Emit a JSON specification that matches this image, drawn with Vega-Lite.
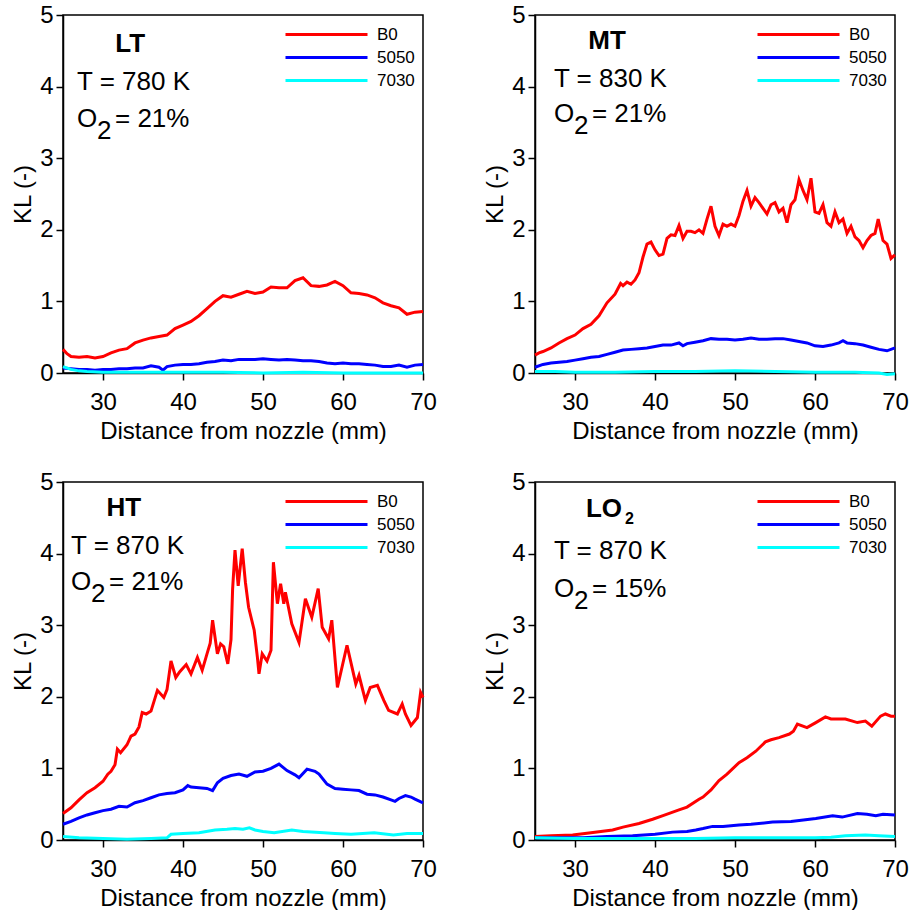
{
  "$schema": "https://vega.github.io/schema/vega-lite/v6.json",
  "padding": {"left": 10, "top": 2, "right": 5, "bottom": 5},
  "background": "white",
  "datasets": {
    "kl": [
      {"p":"LT","f":"B0","x":25,"y":0.33},{"p":"LT","f":"B0","x":25.5,"y":0.27},{"p":"LT","f":"B0","x":26,"y":0.23},{"p":"LT","f":"B0","x":27,"y":0.22},{"p":"LT","f":"B0","x":28,"y":0.23},{"p":"LT","f":"B0","x":29,"y":0.21},{"p":"LT","f":"B0","x":30,"y":0.23},{"p":"LT","f":"B0","x":31,"y":0.28},{"p":"LT","f":"B0","x":32,"y":0.32},{"p":"LT","f":"B0","x":33,"y":0.34},{"p":"LT","f":"B0","x":34,"y":0.42},{"p":"LT","f":"B0","x":35,"y":0.46},{"p":"LT","f":"B0","x":36,"y":0.49},{"p":"LT","f":"B0","x":37,"y":0.51},{"p":"LT","f":"B0","x":38,"y":0.53},{"p":"LT","f":"B0","x":39,"y":0.62},{"p":"LT","f":"B0","x":40,"y":0.67},{"p":"LT","f":"B0","x":41,"y":0.72},{"p":"LT","f":"B0","x":42,"y":0.8},{"p":"LT","f":"B0","x":43,"y":0.9},{"p":"LT","f":"B0","x":44,"y":1.0},{"p":"LT","f":"B0","x":45,"y":1.08},{"p":"LT","f":"B0","x":46,"y":1.06},{"p":"LT","f":"B0","x":47,"y":1.1},{"p":"LT","f":"B0","x":48,"y":1.14},{"p":"LT","f":"B0","x":49,"y":1.11},{"p":"LT","f":"B0","x":50,"y":1.13},{"p":"LT","f":"B0","x":51,"y":1.2},{"p":"LT","f":"B0","x":52,"y":1.19},{"p":"LT","f":"B0","x":53,"y":1.19},{"p":"LT","f":"B0","x":54,"y":1.29},{"p":"LT","f":"B0","x":55,"y":1.33},{"p":"LT","f":"B0","x":56,"y":1.22},{"p":"LT","f":"B0","x":57,"y":1.21},{"p":"LT","f":"B0","x":58,"y":1.23},{"p":"LT","f":"B0","x":59,"y":1.28},{"p":"LT","f":"B0","x":60,"y":1.22},{"p":"LT","f":"B0","x":61,"y":1.12},{"p":"LT","f":"B0","x":62,"y":1.11},{"p":"LT","f":"B0","x":63,"y":1.09},{"p":"LT","f":"B0","x":64,"y":1.05},{"p":"LT","f":"B0","x":65,"y":0.98},{"p":"LT","f":"B0","x":66,"y":0.94},{"p":"LT","f":"B0","x":67,"y":0.91},{"p":"LT","f":"B0","x":68,"y":0.82},{"p":"LT","f":"B0","x":69,"y":0.85},{"p":"LT","f":"B0","x":70,"y":0.86},
      {"p":"LT","f":"5050","x":25,"y":0.07},{"p":"LT","f":"5050","x":26,"y":0.06},{"p":"LT","f":"5050","x":27,"y":0.05},{"p":"LT","f":"5050","x":28,"y":0.05},{"p":"LT","f":"5050","x":29,"y":0.04},{"p":"LT","f":"5050","x":30,"y":0.05},{"p":"LT","f":"5050","x":31,"y":0.05},{"p":"LT","f":"5050","x":32,"y":0.06},{"p":"LT","f":"5050","x":33,"y":0.06},{"p":"LT","f":"5050","x":34,"y":0.07},{"p":"LT","f":"5050","x":35,"y":0.07},{"p":"LT","f":"5050","x":36,"y":0.1},{"p":"LT","f":"5050","x":37,"y":0.08},{"p":"LT","f":"5050","x":37.5,"y":0.04},{"p":"LT","f":"5050","x":38,"y":0.09},{"p":"LT","f":"5050","x":39,"y":0.11},{"p":"LT","f":"5050","x":40,"y":0.12},{"p":"LT","f":"5050","x":41,"y":0.12},{"p":"LT","f":"5050","x":42,"y":0.13},{"p":"LT","f":"5050","x":43,"y":0.15},{"p":"LT","f":"5050","x":44,"y":0.16},{"p":"LT","f":"5050","x":45,"y":0.18},{"p":"LT","f":"5050","x":46,"y":0.17},{"p":"LT","f":"5050","x":47,"y":0.19},{"p":"LT","f":"5050","x":48,"y":0.19},{"p":"LT","f":"5050","x":49,"y":0.19},{"p":"LT","f":"5050","x":50,"y":0.2},{"p":"LT","f":"5050","x":51,"y":0.19},{"p":"LT","f":"5050","x":52,"y":0.18},{"p":"LT","f":"5050","x":53,"y":0.19},{"p":"LT","f":"5050","x":54,"y":0.18},{"p":"LT","f":"5050","x":55,"y":0.17},{"p":"LT","f":"5050","x":56,"y":0.17},{"p":"LT","f":"5050","x":57,"y":0.16},{"p":"LT","f":"5050","x":58,"y":0.14},{"p":"LT","f":"5050","x":59,"y":0.13},{"p":"LT","f":"5050","x":60,"y":0.14},{"p":"LT","f":"5050","x":61,"y":0.13},{"p":"LT","f":"5050","x":62,"y":0.13},{"p":"LT","f":"5050","x":63,"y":0.12},{"p":"LT","f":"5050","x":64,"y":0.11},{"p":"LT","f":"5050","x":65,"y":0.09},{"p":"LT","f":"5050","x":66,"y":0.09},{"p":"LT","f":"5050","x":67,"y":0.11},{"p":"LT","f":"5050","x":68,"y":0.08},{"p":"LT","f":"5050","x":69,"y":0.11},{"p":"LT","f":"5050","x":70,"y":0.12},
      {"p":"LT","f":"7030","x":25,"y":0.09},{"p":"LT","f":"7030","x":26,"y":0.05},{"p":"LT","f":"7030","x":27,"y":0.03},{"p":"LT","f":"7030","x":28,"y":0.02},{"p":"LT","f":"7030","x":30,"y":0.01},{"p":"LT","f":"7030","x":35,"y":0.01},{"p":"LT","f":"7030","x":40,"y":0.01},{"p":"LT","f":"7030","x":45,"y":0.01},{"p":"LT","f":"7030","x":50,"y":0.0},{"p":"LT","f":"7030","x":55,"y":0.01},{"p":"LT","f":"7030","x":60,"y":0.0},{"p":"LT","f":"7030","x":65,"y":0.0},{"p":"LT","f":"7030","x":70,"y":0.0},

      {"p":"MT","f":"B0","x":25,"y":0.25},{"p":"MT","f":"B0","x":25.5,"y":0.28},{"p":"MT","f":"B0","x":26,"y":0.3},{"p":"MT","f":"B0","x":27,"y":0.35},{"p":"MT","f":"B0","x":28,"y":0.42},{"p":"MT","f":"B0","x":29,"y":0.48},{"p":"MT","f":"B0","x":30,"y":0.53},{"p":"MT","f":"B0","x":31,"y":0.62},{"p":"MT","f":"B0","x":32,"y":0.68},{"p":"MT","f":"B0","x":33,"y":0.8},{"p":"MT","f":"B0","x":34,"y":0.98},{"p":"MT","f":"B0","x":35,"y":1.1},{"p":"MT","f":"B0","x":35.7,"y":1.25},{"p":"MT","f":"B0","x":36,"y":1.22},{"p":"MT","f":"B0","x":36.5,"y":1.27},{"p":"MT","f":"B0","x":37,"y":1.24},{"p":"MT","f":"B0","x":37.5,"y":1.3},{"p":"MT","f":"B0","x":38,"y":1.4},{"p":"MT","f":"B0","x":38.5,"y":1.62},{"p":"MT","f":"B0","x":39,"y":1.8},{"p":"MT","f":"B0","x":39.5,"y":1.83},{"p":"MT","f":"B0","x":40,"y":1.72},{"p":"MT","f":"B0","x":40.5,"y":1.64},{"p":"MT","f":"B0","x":41,"y":1.66},{"p":"MT","f":"B0","x":41.5,"y":1.88},{"p":"MT","f":"B0","x":42,"y":1.93},{"p":"MT","f":"B0","x":42.5,"y":1.92},{"p":"MT","f":"B0","x":43,"y":2.06},{"p":"MT","f":"B0","x":43.5,"y":1.88},{"p":"MT","f":"B0","x":44,"y":1.98},{"p":"MT","f":"B0","x":44.5,"y":1.98},{"p":"MT","f":"B0","x":45,"y":1.96},{"p":"MT","f":"B0","x":45.5,"y":2.0},{"p":"MT","f":"B0","x":46,"y":1.95},{"p":"MT","f":"B0","x":46.5,"y":2.15},{"p":"MT","f":"B0","x":47,"y":2.33},{"p":"MT","f":"B0","x":47.5,"y":2.05},{"p":"MT","f":"B0","x":48,"y":1.92},{"p":"MT","f":"B0","x":48.5,"y":2.08},{"p":"MT","f":"B0","x":49,"y":2.05},{"p":"MT","f":"B0","x":49.5,"y":2.08},{"p":"MT","f":"B0","x":50,"y":2.05},{"p":"MT","f":"B0","x":50.5,"y":2.2},{"p":"MT","f":"B0","x":51,"y":2.4},{"p":"MT","f":"B0","x":51.5,"y":2.55},{"p":"MT","f":"B0","x":52,"y":2.33},{"p":"MT","f":"B0","x":52.5,"y":2.45},{"p":"MT","f":"B0","x":53,"y":2.38},{"p":"MT","f":"B0","x":53.5,"y":2.3},{"p":"MT","f":"B0","x":54,"y":2.22},{"p":"MT","f":"B0","x":54.5,"y":2.35},{"p":"MT","f":"B0","x":55,"y":2.38},{"p":"MT","f":"B0","x":55.5,"y":2.25},{"p":"MT","f":"B0","x":56,"y":2.3},{"p":"MT","f":"B0","x":56.5,"y":2.1},{"p":"MT","f":"B0","x":57,"y":2.35},{"p":"MT","f":"B0","x":57.5,"y":2.42},{"p":"MT","f":"B0","x":58,"y":2.7},{"p":"MT","f":"B0","x":58.5,"y":2.55},{"p":"MT","f":"B0","x":59,"y":2.42},{"p":"MT","f":"B0","x":59.5,"y":2.72},{"p":"MT","f":"B0","x":60,"y":2.25},{"p":"MT","f":"B0","x":60.5,"y":2.23},{"p":"MT","f":"B0","x":61,"y":2.35},{"p":"MT","f":"B0","x":61.5,"y":2.1},{"p":"MT","f":"B0","x":62,"y":2.05},{"p":"MT","f":"B0","x":62.5,"y":2.25},{"p":"MT","f":"B0","x":63,"y":2.1},{"p":"MT","f":"B0","x":63.5,"y":2.15},{"p":"MT","f":"B0","x":64,"y":1.95},{"p":"MT","f":"B0","x":64.5,"y":2.05},{"p":"MT","f":"B0","x":65,"y":1.9},{"p":"MT","f":"B0","x":65.5,"y":1.85},{"p":"MT","f":"B0","x":66,"y":1.75},{"p":"MT","f":"B0","x":66.5,"y":1.85},{"p":"MT","f":"B0","x":67,"y":1.92},{"p":"MT","f":"B0","x":67.5,"y":1.95},{"p":"MT","f":"B0","x":67.9,"y":2.15},{"p":"MT","f":"B0","x":68.5,"y":1.85},{"p":"MT","f":"B0","x":69,"y":1.8},{"p":"MT","f":"B0","x":69.5,"y":1.6},{"p":"MT","f":"B0","x":70,"y":1.65},
      {"p":"MT","f":"5050","x":25,"y":0.08},{"p":"MT","f":"5050","x":26,"y":0.12},{"p":"MT","f":"5050","x":27,"y":0.14},{"p":"MT","f":"5050","x":28,"y":0.15},{"p":"MT","f":"5050","x":29,"y":0.16},{"p":"MT","f":"5050","x":30,"y":0.18},{"p":"MT","f":"5050","x":31,"y":0.2},{"p":"MT","f":"5050","x":32,"y":0.22},{"p":"MT","f":"5050","x":33,"y":0.23},{"p":"MT","f":"5050","x":34,"y":0.26},{"p":"MT","f":"5050","x":35,"y":0.29},{"p":"MT","f":"5050","x":36,"y":0.32},{"p":"MT","f":"5050","x":37,"y":0.33},{"p":"MT","f":"5050","x":38,"y":0.34},{"p":"MT","f":"5050","x":39,"y":0.35},{"p":"MT","f":"5050","x":40,"y":0.37},{"p":"MT","f":"5050","x":41,"y":0.39},{"p":"MT","f":"5050","x":42,"y":0.39},{"p":"MT","f":"5050","x":43,"y":0.42},{"p":"MT","f":"5050","x":43.5,"y":0.38},{"p":"MT","f":"5050","x":44,"y":0.41},{"p":"MT","f":"5050","x":45,"y":0.43},{"p":"MT","f":"5050","x":46,"y":0.45},{"p":"MT","f":"5050","x":47,"y":0.48},{"p":"MT","f":"5050","x":48,"y":0.47},{"p":"MT","f":"5050","x":49,"y":0.47},{"p":"MT","f":"5050","x":50,"y":0.46},{"p":"MT","f":"5050","x":51,"y":0.47},{"p":"MT","f":"5050","x":52,"y":0.49},{"p":"MT","f":"5050","x":53,"y":0.47},{"p":"MT","f":"5050","x":54,"y":0.47},{"p":"MT","f":"5050","x":55,"y":0.48},{"p":"MT","f":"5050","x":56,"y":0.48},{"p":"MT","f":"5050","x":57,"y":0.46},{"p":"MT","f":"5050","x":58,"y":0.44},{"p":"MT","f":"5050","x":59,"y":0.42},{"p":"MT","f":"5050","x":60,"y":0.38},{"p":"MT","f":"5050","x":61,"y":0.37},{"p":"MT","f":"5050","x":62,"y":0.39},{"p":"MT","f":"5050","x":63,"y":0.42},{"p":"MT","f":"5050","x":63.5,"y":0.45},{"p":"MT","f":"5050","x":64,"y":0.42},{"p":"MT","f":"5050","x":65,"y":0.41},{"p":"MT","f":"5050","x":66,"y":0.39},{"p":"MT","f":"5050","x":67,"y":0.36},{"p":"MT","f":"5050","x":68,"y":0.33},{"p":"MT","f":"5050","x":69,"y":0.31},{"p":"MT","f":"5050","x":70,"y":0.35},
      {"p":"MT","f":"7030","x":25,"y":0.02},{"p":"MT","f":"7030","x":27.5,"y":0.02},{"p":"MT","f":"7030","x":30,"y":0.01},{"p":"MT","f":"7030","x":35,"y":0.01},{"p":"MT","f":"7030","x":40,"y":0.02},{"p":"MT","f":"7030","x":45,"y":0.02},{"p":"MT","f":"7030","x":50,"y":0.03},{"p":"MT","f":"7030","x":55,"y":0.02},{"p":"MT","f":"7030","x":60,"y":0.01},{"p":"MT","f":"7030","x":65,"y":0.01},{"p":"MT","f":"7030","x":68,"y":0.0},{"p":"MT","f":"7030","x":69,"y":-0.02},{"p":"MT","f":"7030","x":70,"y":-0.01},

      {"p":"HT","f":"B0","x":25,"y":0.37},{"p":"HT","f":"B0","x":26,"y":0.45},{"p":"HT","f":"B0","x":27,"y":0.56},{"p":"HT","f":"B0","x":28,"y":0.66},{"p":"HT","f":"B0","x":29,"y":0.73},{"p":"HT","f":"B0","x":30,"y":0.82},{"p":"HT","f":"B0","x":30.6,"y":0.92},{"p":"HT","f":"B0","x":31,"y":0.96},{"p":"HT","f":"B0","x":31.5,"y":1.05},{"p":"HT","f":"B0","x":31.8,"y":1.27},{"p":"HT","f":"B0","x":32.2,"y":1.22},{"p":"HT","f":"B0","x":33,"y":1.33},{"p":"HT","f":"B0","x":33.5,"y":1.45},{"p":"HT","f":"B0","x":34,"y":1.48},{"p":"HT","f":"B0","x":34.5,"y":1.58},{"p":"HT","f":"B0","x":34.9,"y":1.78},{"p":"HT","f":"B0","x":35.4,"y":1.76},{"p":"HT","f":"B0","x":36,"y":1.8},{"p":"HT","f":"B0","x":36.8,"y":2.09},{"p":"HT","f":"B0","x":37.6,"y":1.99},{"p":"HT","f":"B0","x":38,"y":2.1},{"p":"HT","f":"B0","x":38.5,"y":2.5},{"p":"HT","f":"B0","x":39.1,"y":2.27},{"p":"HT","f":"B0","x":39.6,"y":2.35},{"p":"HT","f":"B0","x":40.4,"y":2.45},{"p":"HT","f":"B0","x":41,"y":2.32},{"p":"HT","f":"B0","x":41.8,"y":2.55},{"p":"HT","f":"B0","x":42.4,"y":2.37},{"p":"HT","f":"B0","x":43,"y":2.6},{"p":"HT","f":"B0","x":43.4,"y":2.75},{"p":"HT","f":"B0","x":43.7,"y":3.07},{"p":"HT","f":"B0","x":44.3,"y":2.6},{"p":"HT","f":"B0","x":44.7,"y":2.74},{"p":"HT","f":"B0","x":45.1,"y":2.7},{"p":"HT","f":"B0","x":45.6,"y":2.46},{"p":"HT","f":"B0","x":46,"y":2.8},{"p":"HT","f":"B0","x":46.2,"y":3.5},{"p":"HT","f":"B0","x":46.5,"y":4.05},{"p":"HT","f":"B0","x":46.9,"y":3.55},{"p":"HT","f":"B0","x":47.4,"y":4.07},{"p":"HT","f":"B0","x":47.8,"y":3.6},{"p":"HT","f":"B0","x":48.2,"y":3.25},{"p":"HT","f":"B0","x":48.9,"y":2.93},{"p":"HT","f":"B0","x":49.3,"y":2.55},{"p":"HT","f":"B0","x":49.5,"y":2.32},{"p":"HT","f":"B0","x":49.9,"y":2.6},{"p":"HT","f":"B0","x":50.5,"y":2.5},{"p":"HT","f":"B0","x":51,"y":2.65},{"p":"HT","f":"B0","x":51.3,"y":3.88},{"p":"HT","f":"B0","x":51.8,"y":3.3},{"p":"HT","f":"B0","x":52.2,"y":3.58},{"p":"HT","f":"B0","x":52.6,"y":3.3},{"p":"HT","f":"B0","x":52.8,"y":3.46},{"p":"HT","f":"B0","x":53.6,"y":3.02},{"p":"HT","f":"B0","x":54.5,"y":2.76},{"p":"HT","f":"B0","x":55.3,"y":3.37},{"p":"HT","f":"B0","x":56.1,"y":3.11},{"p":"HT","f":"B0","x":56.9,"y":3.51},{"p":"HT","f":"B0","x":57.4,"y":2.97},{"p":"HT","f":"B0","x":58.2,"y":2.81},{"p":"HT","f":"B0","x":58.6,"y":3.07},{"p":"HT","f":"B0","x":59.3,"y":2.13},{"p":"HT","f":"B0","x":60.5,"y":2.72},{"p":"HT","f":"B0","x":61.6,"y":2.18},{"p":"HT","f":"B0","x":62,"y":2.3},{"p":"HT","f":"B0","x":62.8,"y":1.95},{"p":"HT","f":"B0","x":63.4,"y":2.13},{"p":"HT","f":"B0","x":64.3,"y":2.16},{"p":"HT","f":"B0","x":65.1,"y":1.95},{"p":"HT","f":"B0","x":65.7,"y":1.81},{"p":"HT","f":"B0","x":66.8,"y":1.76},{"p":"HT","f":"B0","x":67.4,"y":1.9},{"p":"HT","f":"B0","x":67.8,"y":1.76},{"p":"HT","f":"B0","x":68.5,"y":1.6},{"p":"HT","f":"B0","x":69.3,"y":1.71},{"p":"HT","f":"B0","x":69.7,"y":2.06},{"p":"HT","f":"B0","x":70,"y":1.99},
      {"p":"HT","f":"5050","x":25,"y":0.22},{"p":"HT","f":"5050","x":26,"y":0.26},{"p":"HT","f":"5050","x":27,"y":0.31},{"p":"HT","f":"5050","x":28,"y":0.35},{"p":"HT","f":"5050","x":29,"y":0.38},{"p":"HT","f":"5050","x":30,"y":0.41},{"p":"HT","f":"5050","x":31,"y":0.43},{"p":"HT","f":"5050","x":32,"y":0.47},{"p":"HT","f":"5050","x":33,"y":0.46},{"p":"HT","f":"5050","x":34,"y":0.52},{"p":"HT","f":"5050","x":35,"y":0.55},{"p":"HT","f":"5050","x":36,"y":0.59},{"p":"HT","f":"5050","x":37,"y":0.63},{"p":"HT","f":"5050","x":38,"y":0.65},{"p":"HT","f":"5050","x":39,"y":0.66},{"p":"HT","f":"5050","x":40,"y":0.7},{"p":"HT","f":"5050","x":40.6,"y":0.76},{"p":"HT","f":"5050","x":41,"y":0.74},{"p":"HT","f":"5050","x":42,"y":0.73},{"p":"HT","f":"5050","x":43,"y":0.72},{"p":"HT","f":"5050","x":43.7,"y":0.69},{"p":"HT","f":"5050","x":44.3,"y":0.8},{"p":"HT","f":"5050","x":45,"y":0.86},{"p":"HT","f":"5050","x":46,"y":0.9},{"p":"HT","f":"5050","x":47,"y":0.92},{"p":"HT","f":"5050","x":48,"y":0.89},{"p":"HT","f":"5050","x":49,"y":0.95},{"p":"HT","f":"5050","x":50,"y":0.96},{"p":"HT","f":"5050","x":51,"y":1.0},{"p":"HT","f":"5050","x":52,"y":1.06},{"p":"HT","f":"5050","x":53,"y":0.97},{"p":"HT","f":"5050","x":54,"y":0.91},{"p":"HT","f":"5050","x":54.5,"y":0.87},{"p":"HT","f":"5050","x":55.5,"y":0.99},{"p":"HT","f":"5050","x":56.5,"y":0.96},{"p":"HT","f":"5050","x":57,"y":0.92},{"p":"HT","f":"5050","x":58,"y":0.78},{"p":"HT","f":"5050","x":59,"y":0.72},{"p":"HT","f":"5050","x":60,"y":0.71},{"p":"HT","f":"5050","x":61,"y":0.7},{"p":"HT","f":"5050","x":62,"y":0.69},{"p":"HT","f":"5050","x":63,"y":0.64},{"p":"HT","f":"5050","x":64,"y":0.63},{"p":"HT","f":"5050","x":65,"y":0.6},{"p":"HT","f":"5050","x":66,"y":0.56},{"p":"HT","f":"5050","x":66.5,"y":0.54},{"p":"HT","f":"5050","x":67,"y":0.58},{"p":"HT","f":"5050","x":67.8,"y":0.62},{"p":"HT","f":"5050","x":68.5,"y":0.6},{"p":"HT","f":"5050","x":69,"y":0.57},{"p":"HT","f":"5050","x":70,"y":0.52},
      {"p":"HT","f":"7030","x":25,"y":0.05},{"p":"HT","f":"7030","x":27,"y":0.03},{"p":"HT","f":"7030","x":30,"y":0.02},{"p":"HT","f":"7030","x":33,"y":0.01},{"p":"HT","f":"7030","x":36,"y":0.02},{"p":"HT","f":"7030","x":38,"y":0.03},{"p":"HT","f":"7030","x":38.5,"y":0.08},{"p":"HT","f":"7030","x":40,"y":0.09},{"p":"HT","f":"7030","x":42,"y":0.1},{"p":"HT","f":"7030","x":44,"y":0.14},{"p":"HT","f":"7030","x":45.5,"y":0.15},{"p":"HT","f":"7030","x":46.5,"y":0.16},{"p":"HT","f":"7030","x":47.5,"y":0.15},{"p":"HT","f":"7030","x":48.3,"y":0.17},{"p":"HT","f":"7030","x":49,"y":0.14},{"p":"HT","f":"7030","x":50,"y":0.12},{"p":"HT","f":"7030","x":51.4,"y":0.1},{"p":"HT","f":"7030","x":53.6,"y":0.14},{"p":"HT","f":"7030","x":55,"y":0.12},{"p":"HT","f":"7030","x":57.6,"y":0.1},{"p":"HT","f":"7030","x":59,"y":0.09},{"p":"HT","f":"7030","x":61,"y":0.08},{"p":"HT","f":"7030","x":63.9,"y":0.1},{"p":"HT","f":"7030","x":66.3,"y":0.07},{"p":"HT","f":"7030","x":68,"y":0.09},{"p":"HT","f":"7030","x":70,"y":0.09},

      {"p":"LO2","f":"B0","x":25,"y":0.05},{"p":"LO2","f":"B0","x":27,"y":0.06},{"p":"LO2","f":"B0","x":29.7,"y":0.07},{"p":"LO2","f":"B0","x":32,"y":0.1},{"p":"LO2","f":"B0","x":34.7,"y":0.14},{"p":"LO2","f":"B0","x":36,"y":0.18},{"p":"LO2","f":"B0","x":38,"y":0.23},{"p":"LO2","f":"B0","x":39.7,"y":0.29},{"p":"LO2","f":"B0","x":41,"y":0.34},{"p":"LO2","f":"B0","x":43,"y":0.42},{"p":"LO2","f":"B0","x":44,"y":0.46},{"p":"LO2","f":"B0","x":45.5,"y":0.57},{"p":"LO2","f":"B0","x":46,"y":0.6},{"p":"LO2","f":"B0","x":47,"y":0.7},{"p":"LO2","f":"B0","x":48,"y":0.83},{"p":"LO2","f":"B0","x":49,"y":0.92},{"p":"LO2","f":"B0","x":50.5,"y":1.08},{"p":"LO2","f":"B0","x":51.5,"y":1.15},{"p":"LO2","f":"B0","x":52.6,"y":1.24},{"p":"LO2","f":"B0","x":53.8,"y":1.37},{"p":"LO2","f":"B0","x":54.5,"y":1.4},{"p":"LO2","f":"B0","x":55.5,"y":1.43},{"p":"LO2","f":"B0","x":56.8,"y":1.48},{"p":"LO2","f":"B0","x":57.3,"y":1.52},{"p":"LO2","f":"B0","x":57.8,"y":1.62},{"p":"LO2","f":"B0","x":59,"y":1.57},{"p":"LO2","f":"B0","x":60.1,"y":1.64},{"p":"LO2","f":"B0","x":61.3,"y":1.72},{"p":"LO2","f":"B0","x":62,"y":1.69},{"p":"LO2","f":"B0","x":62.6,"y":1.69},{"p":"LO2","f":"B0","x":63.8,"y":1.69},{"p":"LO2","f":"B0","x":65.3,"y":1.64},{"p":"LO2","f":"B0","x":66.3,"y":1.66},{"p":"LO2","f":"B0","x":67.1,"y":1.59},{"p":"LO2","f":"B0","x":68.2,"y":1.73},{"p":"LO2","f":"B0","x":68.8,"y":1.76},{"p":"LO2","f":"B0","x":69.5,"y":1.73},{"p":"LO2","f":"B0","x":70,"y":1.73},
      {"p":"LO2","f":"5050","x":25,"y":0.03},{"p":"LO2","f":"5050","x":28,"y":0.03},{"p":"LO2","f":"5050","x":31,"y":0.03},{"p":"LO2","f":"5050","x":34,"y":0.05},{"p":"LO2","f":"5050","x":37.2,"y":0.06},{"p":"LO2","f":"5050","x":40,"y":0.08},{"p":"LO2","f":"5050","x":42.2,"y":0.11},{"p":"LO2","f":"5050","x":44,"y":0.12},{"p":"LO2","f":"5050","x":45.1,"y":0.14},{"p":"LO2","f":"5050","x":46,"y":0.16},{"p":"LO2","f":"5050","x":47.2,"y":0.19},{"p":"LO2","f":"5050","x":48.5,"y":0.19},{"p":"LO2","f":"5050","x":50.5,"y":0.21},{"p":"LO2","f":"5050","x":52,"y":0.22},{"p":"LO2","f":"5050","x":54.7,"y":0.25},{"p":"LO2","f":"5050","x":57,"y":0.26},{"p":"LO2","f":"5050","x":60.1,"y":0.3},{"p":"LO2","f":"5050","x":62.2,"y":0.34},{"p":"LO2","f":"5050","x":63.4,"y":0.32},{"p":"LO2","f":"5050","x":65.3,"y":0.37},{"p":"LO2","f":"5050","x":66.5,"y":0.36},{"p":"LO2","f":"5050","x":67.6,"y":0.34},{"p":"LO2","f":"5050","x":68.5,"y":0.36},{"p":"LO2","f":"5050","x":70,"y":0.35},
      {"p":"LO2","f":"7030","x":25,"y":0.03},{"p":"LO2","f":"7030","x":30,"y":0.02},{"p":"LO2","f":"7030","x":35,"y":0.02},{"p":"LO2","f":"7030","x":40,"y":0.02},{"p":"LO2","f":"7030","x":45,"y":0.02},{"p":"LO2","f":"7030","x":50,"y":0.03},{"p":"LO2","f":"7030","x":55,"y":0.03},{"p":"LO2","f":"7030","x":60,"y":0.03},{"p":"LO2","f":"7030","x":62,"y":0.04},{"p":"LO2","f":"7030","x":63.8,"y":0.06},{"p":"LO2","f":"7030","x":66.3,"y":0.07},{"p":"LO2","f":"7030","x":68,"y":0.06},{"p":"LO2","f":"7030","x":70,"y":0.05}
    ]
  },
  "columns": 2,
  "spacing": {"row": 109, "column": 112},
  "bounds": "flush",
  "resolve": {"scale": {"color": "independent"}, "legend": {"color": "independent"}},
  "concat": [
    {
      "width": 360, "height": 358,
      "layer": [
        {"data": {"name": "kl"}, "transform": [{"filter": "datum.p === 'LT'"}],
         "mark": {"type": "line", "strokeWidth": 3},
         "encoding": {
           "x": {"field": "x", "type": "quantitative", "scale": {"domain": [25, 70], "nice": false, "zero": false},
                 "axis": {"title": "Distance from nozzle (mm)", "values": [30,40,50,60,70], "format": "d", "labelPadding": 10, "titlePadding": 5}},
           "y": {"field": "y", "type": "quantitative", "scale": {"domain": [0, 5], "nice": false},
                 "axis": {"title": "KL (-)", "values": [0,0.5,1,1.5,2,2.5,3,3.5,4,4.5,5], "labelExpr": "datum.value % 1 === 0 ? format(datum.value, 'd') : ''", "tickDash": {"condition": {"test": "datum.value % 1 !== 0", "value": [4, 20]}, "value": []}}},
           "color": {"field": "f", "type": "nominal", "scale": {"domain": ["B0", "5050", "7030"], "range": ["#ff0000", "#0000ff", "#00ffff"]}, "legend": {"title": null}}
         }},
        {"data": {"values": [{}]}, "mark": {"type": "text", "text": "LT", "fontSize": 26, "fontWeight": "bold", "align": "center"}, "encoding": {"x": {"datum": 33.4}, "y": {"datum": 4.48}}},
        {"data": {"values": [{}]}, "mark": {"type": "text", "text": "T = 780 K"}, "encoding": {"x": {"datum": 26.75}, "y": {"datum": 3.95}}},
        {"data": {"values": [{}]}, "mark": {"type": "text", "text": "O"}, "encoding": {"x": {"datum": 26.75}, "y": {"datum": 3.44}}},
        {"data": {"values": [{}]}, "mark": {"type": "text", "text": "2", "dx": 20, "dy": 12}, "encoding": {"x": {"datum": 26.75}, "y": {"datum": 3.44}}},
        {"data": {"values": [{}]}, "mark": {"type": "text", "text": "= 21%", "dx": 38}, "encoding": {"x": {"datum": 26.75}, "y": {"datum": 3.44}}}
      ]
    },
    {
      "width": 360, "height": 358,
      "layer": [
        {"data": {"name": "kl"}, "transform": [{"filter": "datum.p === 'MT'"}],
         "mark": {"type": "line", "strokeWidth": 3},
         "encoding": {
           "x": {"field": "x", "type": "quantitative", "scale": {"domain": [25, 70], "nice": false, "zero": false},
                 "axis": {"title": "Distance from nozzle (mm)", "values": [30,40,50,60,70], "format": "d", "labelPadding": 10, "titlePadding": 5}},
           "y": {"field": "y", "type": "quantitative", "scale": {"domain": [0, 5], "nice": false},
                 "axis": {"title": "KL (-)", "values": [0,0.5,1,1.5,2,2.5,3,3.5,4,4.5,5], "labelExpr": "datum.value % 1 === 0 ? format(datum.value, 'd') : ''", "tickDash": {"condition": {"test": "datum.value % 1 !== 0", "value": [4, 20]}, "value": []}}},
           "color": {"field": "f", "type": "nominal", "scale": {"domain": ["B0", "5050", "7030"], "range": ["#ff0000", "#0000ff", "#00ffff"]}, "legend": {"title": null}}
         }},
        {"data": {"values": [{}]}, "mark": {"type": "text", "text": "MT", "fontSize": 26, "fontWeight": "bold", "align": "center"}, "encoding": {"x": {"datum": 34.0}, "y": {"datum": 4.53}}},
        {"data": {"values": [{}]}, "mark": {"type": "text", "text": "T = 830 K"}, "encoding": {"x": {"datum": 27.37}, "y": {"datum": 4.0}}},
        {"data": {"values": [{}]}, "mark": {"type": "text", "text": "O"}, "encoding": {"x": {"datum": 27.37}, "y": {"datum": 3.5}}},
        {"data": {"values": [{}]}, "mark": {"type": "text", "text": "2", "dx": 20, "dy": 12}, "encoding": {"x": {"datum": 27.37}, "y": {"datum": 3.5}}},
        {"data": {"values": [{}]}, "mark": {"type": "text", "text": "= 21%", "dx": 38}, "encoding": {"x": {"datum": 27.37}, "y": {"datum": 3.5}}}
      ]
    },
    {
      "width": 360, "height": 358,
      "layer": [
        {"data": {"name": "kl"}, "transform": [{"filter": "datum.p === 'HT'"}],
         "mark": {"type": "line", "strokeWidth": 3},
         "encoding": {
           "x": {"field": "x", "type": "quantitative", "scale": {"domain": [25, 70], "nice": false, "zero": false},
                 "axis": {"title": "Distance from nozzle (mm)", "values": [30,40,50,60,70], "format": "d", "labelPadding": 10, "titlePadding": 5}},
           "y": {"field": "y", "type": "quantitative", "scale": {"domain": [0, 5], "nice": false},
                 "axis": {"title": "KL (-)", "values": [0,0.5,1,1.5,2,2.5,3,3.5,4,4.5,5], "labelExpr": "datum.value % 1 === 0 ? format(datum.value, 'd') : ''", "tickDash": {"condition": {"test": "datum.value % 1 !== 0", "value": [4, 20]}, "value": []}}},
           "color": {"field": "f", "type": "nominal", "scale": {"domain": ["B0", "5050", "7030"], "range": ["#ff0000", "#0000ff", "#00ffff"]}, "legend": {"title": null}}
         }},
        {"data": {"values": [{}]}, "mark": {"type": "text", "text": "HT", "fontSize": 26, "fontWeight": "bold", "align": "center"}, "encoding": {"x": {"datum": 32.6}, "y": {"datum": 4.52}}},
        {"data": {"values": [{}]}, "mark": {"type": "text", "text": "T = 870 K"}, "encoding": {"x": {"datum": 26.0}, "y": {"datum": 4.0}}},
        {"data": {"values": [{}]}, "mark": {"type": "text", "text": "O"}, "encoding": {"x": {"datum": 26.0}, "y": {"datum": 3.49}}},
        {"data": {"values": [{}]}, "mark": {"type": "text", "text": "2", "dx": 20, "dy": 12}, "encoding": {"x": {"datum": 26.0}, "y": {"datum": 3.49}}},
        {"data": {"values": [{}]}, "mark": {"type": "text", "text": "= 21%", "dx": 38}, "encoding": {"x": {"datum": 26.0}, "y": {"datum": 3.49}}}
      ]
    },
    {
      "width": 360, "height": 358,
      "layer": [
        {"data": {"name": "kl"}, "transform": [{"filter": "datum.p === 'LO2'"}],
         "mark": {"type": "line", "strokeWidth": 3},
         "encoding": {
           "x": {"field": "x", "type": "quantitative", "scale": {"domain": [25, 70], "nice": false, "zero": false},
                 "axis": {"title": "Distance from nozzle (mm)", "values": [30,40,50,60,70], "format": "d", "labelPadding": 10, "titlePadding": 5}},
           "y": {"field": "y", "type": "quantitative", "scale": {"domain": [0, 5], "nice": false},
                 "axis": {"title": "KL (-)", "values": [0,0.5,1,1.5,2,2.5,3,3.5,4,4.5,5], "labelExpr": "datum.value % 1 === 0 ? format(datum.value, 'd') : ''", "tickDash": {"condition": {"test": "datum.value % 1 !== 0", "value": [4, 20]}, "value": []}}},
           "color": {"field": "f", "type": "nominal", "scale": {"domain": ["B0", "5050", "7030"], "range": ["#ff0000", "#0000ff", "#00ffff"]}, "legend": {"title": null}}
         }},
        {"data": {"values": [{}]}, "mark": {"type": "text", "text": "LO", "fontSize": 26, "fontWeight": "bold"}, "encoding": {"x": {"datum": 31.36}, "y": {"datum": 4.51}}},
        {"data": {"values": [{}]}, "mark": {"type": "text", "text": "2", "fontSize": 16, "fontWeight": "bold", "dx": 39, "dy": 7}, "encoding": {"x": {"datum": 31.36}, "y": {"datum": 4.51}}},
        {"data": {"values": [{}]}, "mark": {"type": "text", "text": "T = 870 K"}, "encoding": {"x": {"datum": 27.37}, "y": {"datum": 3.92}}},
        {"data": {"values": [{}]}, "mark": {"type": "text", "text": "O"}, "encoding": {"x": {"datum": 27.37}, "y": {"datum": 3.4}}},
        {"data": {"values": [{}]}, "mark": {"type": "text", "text": "2", "dx": 20, "dy": 12}, "encoding": {"x": {"datum": 27.37}, "y": {"datum": 3.4}}},
        {"data": {"values": [{}]}, "mark": {"type": "text", "text": "= 15%", "dx": 38}, "encoding": {"x": {"datum": 27.37}, "y": {"datum": 3.4}}}
      ]
    }
  ],
  "config": {
    "font": "Liberation Sans",
    "view": {"stroke": "#000000", "strokeWidth": 1.5},
    "text": {"font": "Liberation Sans", "fontSize": 26, "align": "left", "baseline": "alphabetic", "color": "#000000"},
    "axis": {"domainColor": "#000000", "domainWidth": 1.5, "tickColor": "#000000", "tickWidth": 1.5, "tickSize": 7, "labelPadding": 3, "titlePadding": 4, "labelColor": "#000000", "titleColor": "#000000", "labelFont": "Liberation Sans", "titleFont": "Liberation Sans", "labelFontSize": 24, "titleFontSize": 24, "titleFontWeight": "normal", "grid": false, "labelFlush": false, "labelOverlap": false},
    "legend": {"orient": "top-right", "offset": 8, "symbolType": "stroke", "symbolStrokeWidth": 3, "symbolSize": 6724, "clipHeight": 23, "rowPadding": 0, "labelFontSize": 17, "labelFont": "Liberation Sans", "labelColor": "#000000", "labelOffset": 8, "padding": 0}
  }
}
